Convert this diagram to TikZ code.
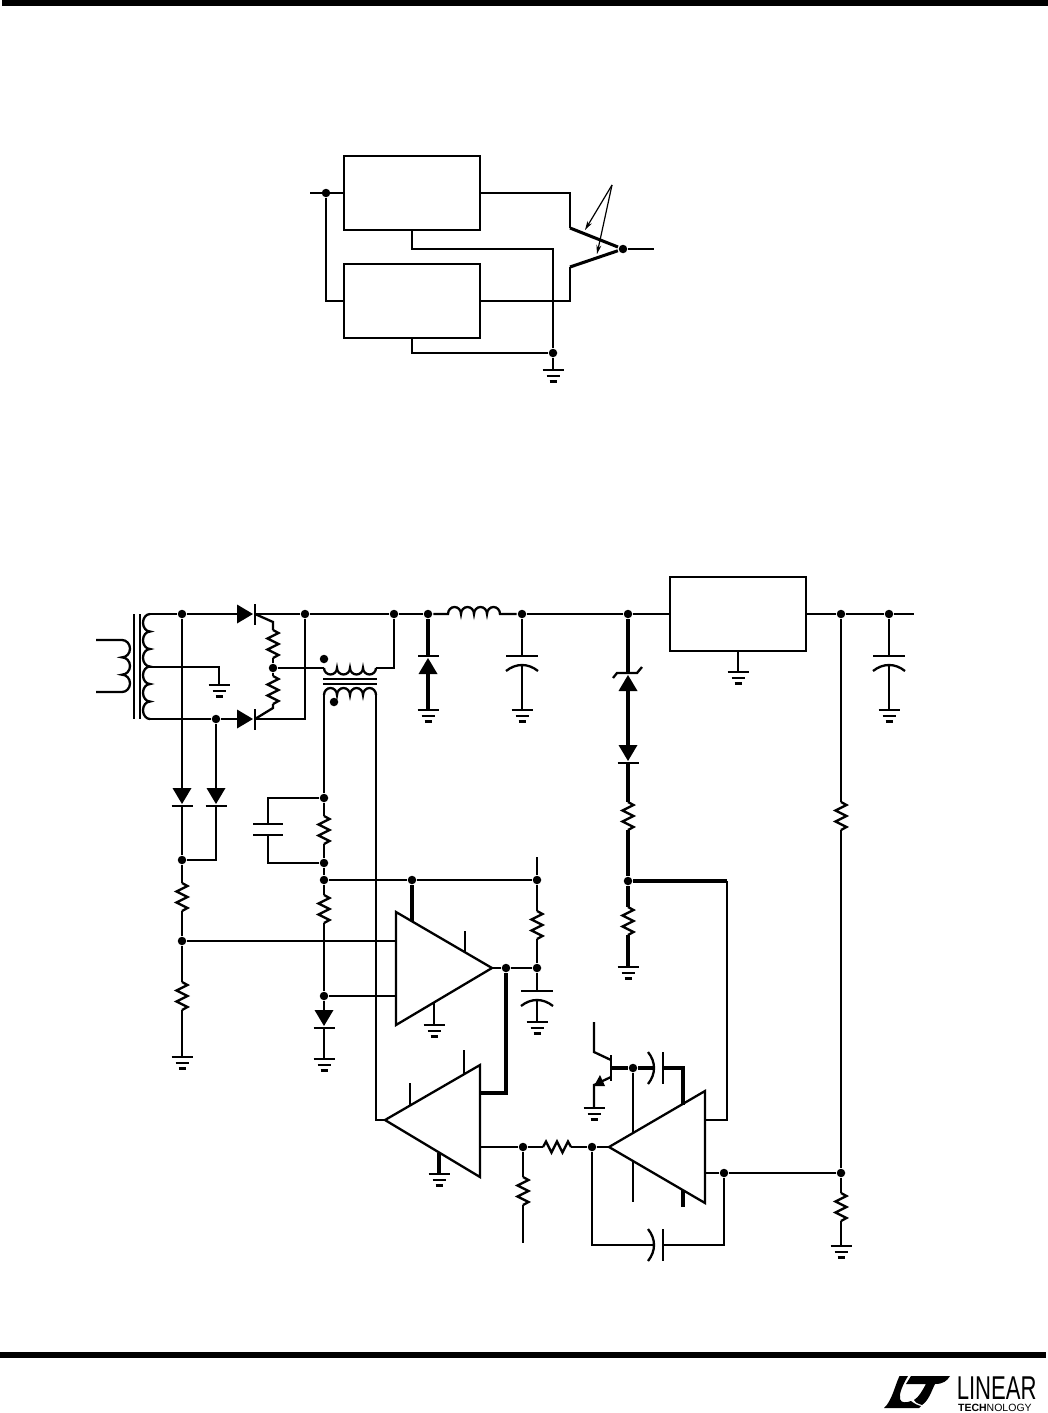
\documentclass[tikz,border=0pt]{standalone}
\usepackage{fontspec}
\setmainfont{Liberation Sans}
\usetikzlibrary{arrows.meta, positioning}
\tikzset{
    wire/.style={line width=2.3pt, line join=miter},
    heavy/.style={line width=3.05pt},
    jct/.style={circle, fill=black, inner sep=0pt, minimum size=8.5pt},
    ic/.style={draw=black, line width=2.3pt, inner sep=0pt, outer sep=0pt, minimum width=136pt, minimum height=74pt},
    gndsym/.pic={
        \coordinate (-t) at (0,0);
        \draw[line width=2.6pt] (-10.5,0) -- (10.5,0);
        \draw[line width=2.4pt] (-6.5,6) -- (6.5,6);
        \draw[line width=2.4pt] (-3.5,11.5) -- (3.5,11.5);
    },
    resv/.pic={
        \coordinate (-a) at (0,0);
        \coordinate (-b) at (0,28);
        \draw[wire] (0,0) -- (5.5,3) -- (-5.5,8.5) -- (5.5,14) -- (-5.5,19.5) -- (5.5,25) -- (0,28);
    },
    diode/.pic={
        \coordinate (-a) at (0,-17);
        \coordinate (-k) at (0,0);
        \fill (-9.5,-18) -- (9.5,-18) -- (0,-2) -- cycle;
        \draw[wire] (-10.5,0) -- (10.5,0);
    },
    zenerdiode/.pic={
        \coordinate (-k) at (0,0);
        \coordinate (-a) at (0,17);
        \fill (-9.5,18) -- (9.5,18) -- (0,2) -- cycle;
        \draw[wire] (-15,5) -- (-11,0) -- (9,0) -- (14,-6);
    },
    capcurved/.pic={
        \coordinate (-a) at (0,0);
        \coordinate (-b) at (0,9);
        \draw[wire] (-16,0) -- (16,0);
        \draw[wire] (-16,15) .. controls (-6,7) and (6,7) .. (16,15);
    },
}
\begin{document}
\begin{tikzpicture}[x=1pt, y=-1pt, wire]
    \useasboundingbox (0,0) rectangle (1048,1413);

    % Page rules
    \fill (2,0) rectangle (1048,6.5);
    \fill (0,1351.5) rectangle (1046,1358);

    % ---- Upper figure: two regulators in parallel ----
    \node[ic] (regA) at (412,193) {};
    \node[ic, line width=2.7pt] (regB) at (412,301) {};
    \node[jct] (inJ) at (326,193) {};
    \node[jct] (sumJ) at (623,249) {};
    \node[jct] (gndJ) at (553,353) {};
    \coordinate (inL) at (310,193);
    \coordinate (outR) at (654,249);
    \coordinate (bendA) at (553,249);
    \coordinate (tagTip) at (612,185);
    \pic (gndTop) at (553,370) {gndsym};

    \draw (inL) -- (regA.west);
    \draw (inJ) |- (regB.west);
    \draw (regA.east) -- (570,193) -- (570,228);
    \draw (regB.east) -- (570,301) -- (570,267);
    \draw[heavy] (570,228) -- (sumJ);
    \draw[heavy] (570,267) -- (sumJ);
    \draw (sumJ) -- (outR);
    \draw (regA.south) |- (bendA) -- (gndJ);
    \draw (regB.south) |- (gndJ);
    \draw (gndJ) -- (gndTop-t);

    % Sense lead arrows
    \draw[-{Stealth[length=9pt,width=5pt]}, line width=1.2pt] (tagTip) -- (585,230);
    \draw[-{Stealth[length=9pt,width=5pt]}, line width=1.2pt] (tagTip) -- (597,254);

    % ---- Lower figure: rail junctions ----
    \foreach \name/\x in {rA/182, rB/305, rC/394, rD/428, rE/522, rF/628, rG/841, rH/889} {
        \node[jct] (\name) at (\x,614) {};
    }
    \node[ic] (regC) at (738,614) {};
    \coordinate (railL) at (150,614);
    \coordinate (railR) at (914,614);

    % Transformer core and input
    \draw (134,614) -- (134,719);
    \draw (140,614) -- (140,719);
    \draw (96,640) -- (122,640) \foreach \i in {1,2,3} { arc (-90:90:8 and 8.67) } -- (96,692);
    \draw (railL) \foreach \i in {1,...,6} { arc (-90:-270:7 and 8.75) };

    % Rectifier
    \node[jct] (botJ) at (216,719) {};
    \node[jct] (midJ) at (273,668) {};
    \coordinate (tapL) at (150,667);
    \coordinate (botL) at (150,719);
    \pic[rotate=90] (dTop) at (255,614) {diode};
    \pic[rotate=90] (dBot) at (255,719) {diode};
    \pic (rTop) at (273,630) {resv};
    \pic (rBot) at (273,676) {resv};
    \pic (gndTap) at (219,685) {gndsym};
    \draw (railL) -- (rA) -- (dTop-a);
    \draw (dTop-k) -- (rB) -- (rC) -- (rD);
    \draw (botL) -- (botJ) -- (dBot-a);
    \draw (tapL) -| (gndTap-t);
    \draw (dTop-k) -- (273,622) -- (rTop-a);
    \draw (rTop-b) -- (midJ) -- (rBot-a);
    \draw (rBot-b) -- (273,708) -- (dBot-k);
    \draw (rB) |- (dBot-k);

    % Current transformer
    \coordinate (ctA) at (324,668);
    \coordinate (ctB) at (324,695);
    \coordinate (ctC) at (376,668);
    \coordinate (ctD) at (376,695);
    \draw (ctA) \foreach \i in {1,...,4} { arc (180:0:6.5 and 6.5) };
    \draw (ctB) \foreach \i in {1,...,4} { arc (180:360:6.5 and 7) };
    \draw (323,679) -- (377,679);
    \draw (323,684) -- (377,684);
    \node[jct] (ctDotA) at (324,659) {};
    \node[jct] (ctDotB) at (334,702) {};
    \draw (midJ) -- (ctA);
    \draw (rC) |- (ctC);

    % Catch diode, choke and filter capacitor
    \pic[rotate=180] (dCatch) at (428,656) {diode};
    \pic (gndCatch) at (428,710) {gndsym};
    \draw[heavy] (rD) -- (dCatch-k);
    \draw[heavy] (dCatch-a) -- (gndCatch-t);
    \coordinate (lA) at (448,614);
    \coordinate (lB) at (500,614);
    \draw (rD) -- (lA) \foreach \i in {1,...,4} { arc (180:360:6.5 and 7) } -- (rE);
    \pic (cOutA) at (522,656) {capcurved};
    \pic (gndCapA) at (522,710) {gndsym};
    \draw (rE) -- (cOutA-a);
    \draw (cOutA-b) -- (gndCapA-t);
    \draw (rE) -- (rF) -- (regC.west);

    % Output side of the regulator
    \pic (gndReg) at (738,672) {gndsym};
    \draw (regC.south) -- (gndReg-t);
    \draw (regC.east) -- (rG) -- (rH) -- (railR);
    \pic (cOutB) at (889,656) {capcurved};
    \pic (gndCapB) at (889,710) {gndsym};
    \draw (rH) -- (cOutB-a);
    \draw (cOutB-b) -- (gndCapB-t);
    \node[jct] (fbJ) at (841,1173) {};
    \pic (rFbA) at (841,802) {resv};
    \pic (rFbB) at (841,1193) {resv};
    \pic (gndFb) at (841,1246) {gndsym};
    \draw (rG) -- (rFbA-a);
    \draw (rFbA-b) -- (fbJ) -- (rFbB-a);
    \draw (rFbB-b) -- (gndFb-t);

    % Zener column
    \pic (dZen) at (628,673) {zenerdiode};
    \pic (dSer) at (628,763) {diode};
    \pic (rZenA) at (628,802) {resv};
    \pic (rZenB) at (628,907) {resv};
    \pic (gndZen) at (628,967) {gndsym};
    \node[jct] (zenJ) at (628,881) {};
    \draw[heavy] (rF) -- (dZen-k);
    \draw[heavy] (dZen-a) -- (dSer-a);
    \draw[heavy] (dSer-k) -- (rZenA-a);
    \draw[heavy] (rZenA-b) -- (zenJ) -- (rZenB-a);
    \draw[heavy] (rZenB-b) -- (gndZen-t);

    % Divider from the rectified secondary
    \pic (dSecA) at (182,806) {diode};
    \pic (dSecB) at (216,806) {diode};
    \node[jct] (secJ) at (182,860) {};
    \node[jct] (divJ) at (182,941) {};
    \pic (rDivA) at (182,883) {resv};
    \pic (rDivB) at (182,982) {resv};
    \pic (gndDiv) at (182,1057) {gndsym};
    \draw (rA) -- (dSecA-a);
    \draw (botJ) -- (dSecB-a);
    \draw (dSecA-k) -- (secJ) -- (rDivA-a);
    \draw (dSecB-k) |- (secJ);
    \draw (rDivA-b) -- (divJ) -- (rDivB-a);
    \draw (rDivB-b) -- (gndDiv-t);

    % Current sense column
    \node[jct] (csA) at (324,798) {};
    \node[jct] (csB) at (324,863) {};
    \node[jct] (csC) at (324,880) {};
    \node[jct] (csD) at (324,996) {};
    \pic (rSense) at (324,816) {resv};
    \pic (rRef) at (324,895) {resv};
    \pic (dRef) at (324,1028) {diode};
    \pic (gndRef) at (324,1059) {gndsym};
    \coordinate (capTop) at (268,824);
    \coordinate (capBot) at (268,835);
    \draw (253,824) -- (283,824);
    \draw (253,835) -- (283,835);
    \draw (csA) -| (capTop);
    \draw (csB) -| (capBot);
    \draw (ctB) -- (csA) -- (rSense-a);
    \draw (rSense-b) -- (csB) -- (csC) -- (rRef-a);
    \draw (rRef-b) -- (csD) -- (dRef-a);
    \draw (dRef-k) -- (gndRef-t);

    % Amplifier 1
    \coordinate (ampAout) at (492,968);
    \draw (396,912) -- (396,1025) -- (ampAout) -- cycle;
    \node[jct] (ampAj) at (506,968) {};
    \node[jct] (vccJ) at (412,880) {};
    \node[jct] (vccR) at (537,880) {};
    \node[jct] (compJ) at (537,968) {};
    \pic (rComp) at (537,911) {resv};
    \pic (cComp) at (537,991) {capcurved};
    \pic (gndComp) at (537,1022) {gndsym};
    \pic (gndAmpA) at (434,1025) {gndsym};
    \draw (csC) -- (vccJ) -- (vccR);
    \draw (vccR) -- (537,857);
    \draw (vccR) -- (rComp-a);
    \draw (rComp-b) -- (compJ) -- (cComp-a);
    \draw (cComp-b) -- (gndComp-t);
    \draw (ampAout) -- (ampAj) -- (compJ);
    \draw[heavy] (vccJ) -- (412,921);
    \draw (465,931) -- (465,952);
    \draw (434,1003) -- (gndAmpA-t);
    \draw (divJ) -- (396,941);
    \draw (csD) -- (396,996);

    % Amplifier 2
    \coordinate (ampBin) at (385,1120);
    \draw (ampBin) -- (480,1065) -- (480,1177) -- cycle;
    \pic (gndAmpB) at (439,1174) {gndsym};
    \draw[heavy] (ampAj) |- (480,1093);
    \draw (ctD) |- (ampBin);
    \draw (464,1050) -- (464,1074);
    \draw (410,1083) -- (410,1105);
    \draw[heavy] (439,1153) -- (gndAmpB-t);

    % Error amplifier and its feedback
    \coordinate (ampCin) at (609,1147);
    \draw (ampCin) -- (705,1091) -- (705,1203) -- cycle;
    \node[jct] (ampBj) at (523,1147) {};
    \node[jct] (sumC) at (592,1147) {};
    \node[jct] (ampCj) at (724,1173) {};
    \pic[rotate=90] (rSer) at (543,1147) {resv};
    \pic (rLow) at (523,1177) {resv};
    \draw (480,1147) -- (ampBj) -- (rSer-a);
    \draw (rSer-b) -- (sumC) -- (ampCin);
    \draw (ampBj) -- (rLow-a);
    \draw (rLow-b) -- (523,1243);
    \draw (705,1120) -| (727,881);
    \draw[heavy] (zenJ) -- (727,881);
    \draw (705,1173) -- (ampCj) -- (fbJ);
    \pic[rotate=-90] (cFb) at (663,1245) {capcurved};
    \draw (sumC) |- (cFb-b);
    \draw (cFb-a) -| (ampCj);

    % Transistor and compensation capacitor
    \node[jct] (baseJ) at (633,1068) {};
    \pic[rotate=-90] (cBase) at (663,1068) {capcurved};
    \pic (gndQ) at (594,1108) {gndsym};
    \draw[line width=2.6pt] (611,1055) -- (611,1081);
    \draw (594,1022) -- (594,1052) -- (611,1060);
    \draw (611,1077) -- (594,1085) -- (gndQ-t);
    \fill (594,1086) -- (605,1086) -- (600,1075) -- cycle;
    \draw[heavy] (611,1068) -- (baseJ) -- (cBase-b);
    \draw[heavy] (cBase-a) -| (683,1105);
    \draw (baseJ) -- (633,1133);
    \draw (633,1162) -- (633,1202);
    \draw[heavy] (683,1190) -- (683,1207);

    % Logo
    \fill (899.5,1376) -- (908,1376) .. controls (902,1386) and (899,1394) .. (900,1399) .. controls (901,1403) and (906,1403) .. (911,1401) .. controls (915,1404) and (917,1405) .. (921,1406) -- (919,1408) -- (884,1408) .. controls (892,1401) and (895,1385) .. cycle;
    \fill (911,1376) -- (950,1376) .. controls (947,1381) and (943,1384) .. (935,1384) .. controls (931,1392) and (929,1400) .. (922,1405) .. controls (916,1403) and (915,1402) .. (914,1400) .. controls (919,1397) and (922,1391) .. (926,1384) -- (906,1384) -- cycle;
    \node[anchor=west, inner sep=0pt, xscale=0.67, transform shape, font=\fontsize{33}{33}\selectfont] (logoA) at (956,1388.5) {LINEAR};
    \node[anchor=west, inner sep=0pt, font=\fontsize{10.5}{10.5}\selectfont] (logoB) at (957,1407.5) {\textbf{TECH}NOLOGY};
\end{tikzpicture}
\end{document}
